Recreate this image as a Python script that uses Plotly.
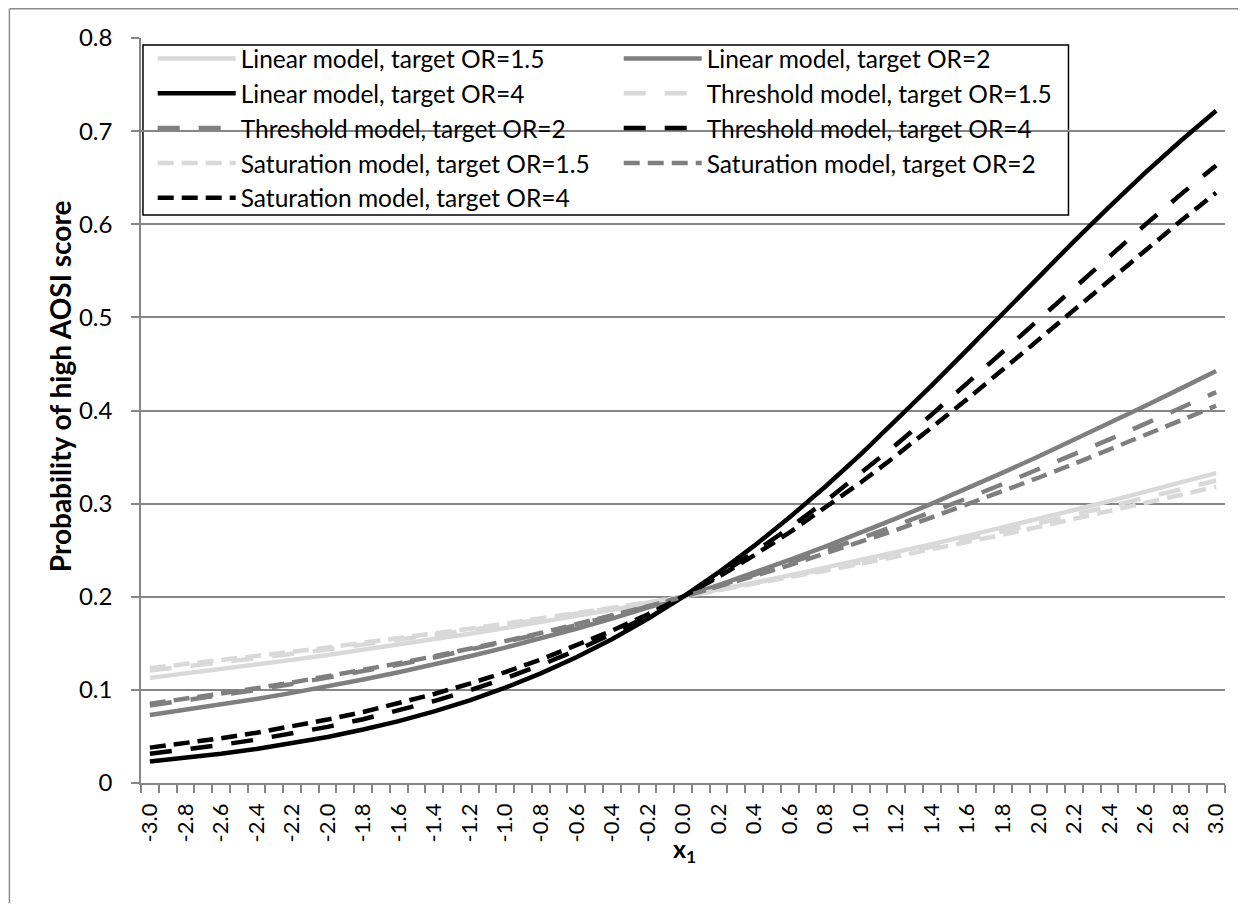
import plotly.graph_objects as go

x_vals = [-3.0, -2.8, -2.6, -2.4, -2.2, -2.0, -1.8, -1.6, -1.4, -1.2, -1.0, -0.8, -0.6, -0.4, -0.2,
          0.0, 0.2, 0.4, 0.6, 0.8, 1.0, 1.2, 1.4, 1.6, 1.8, 2.0, 2.2, 2.4, 2.6, 2.8, 3.0]
tick_labels = ["-3.0", "-2.8", "-2.6", "-2.4", "-2.2", "-2.0", "-1.8", "-1.6", "-1.4", "-1.2", "-1.0",
               "-0.8", "-0.6", "-0.4", "-0.2", "0.0", "0.2", "0.4", "0.6", "0.8", "1.0", "1.2", "1.4",
               "1.6", "1.8", "2.0", "2.2", "2.4", "2.6", "2.8", "3.0"]

linear_or15 = [0.1129, 0.1175, 0.1222, 0.1272, 0.1322, 0.1375, 0.1429, 0.1485, 0.1543, 0.1603, 0.1664,
               0.1727, 0.1793, 0.1860, 0.1929, 0.2000, 0.2075, 0.2152, 0.2230, 0.2311, 0.2393, 0.2478,
               0.2565, 0.2654, 0.2744, 0.2837, 0.2931, 0.3027, 0.3125, 0.3225, 0.3327]
linear_or2 = [0.0730, 0.0784, 0.0841, 0.0903, 0.0968, 0.1037, 0.1111, 0.1190, 0.1273, 0.1361, 0.1454,
              0.1552, 0.1656, 0.1766, 0.1880, 0.2000, 0.2126, 0.2258, 0.2395, 0.2538, 0.2687, 0.2841,
              0.3000, 0.3164, 0.3333, 0.3506, 0.3683, 0.3864, 0.4048, 0.4235, 0.4425]
linear_or4 = [0.0232, 0.0270, 0.0315, 0.0366, 0.0426, 0.0494, 0.0574, 0.0665, 0.0769, 0.0888, 0.1024,
              0.1177, 0.1350, 0.1544, 0.1761, 0.2000, 0.2261, 0.2546, 0.2853, 0.3181, 0.3529, 0.3893,
              0.4270, 0.4654, 0.5043, 0.5432, 0.5816, 0.6190, 0.6551, 0.6894, 0.7218]
threshold_or15 = [0.1207, 0.1250, 0.1294, 0.1340, 0.1387, 0.1435, 0.1485, 0.1537, 0.1589, 0.1643, 0.1699,
                  0.1756, 0.1815, 0.1875, 0.1937, 0.2000, 0.2071, 0.2143, 0.2218, 0.2294, 0.2372, 0.2452,
                  0.2534, 0.2617, 0.2702, 0.2789, 0.2878, 0.2968, 0.3060, 0.3153, 0.3248]
threshold_or2 = [0.0832, 0.0885, 0.0941, 0.1000, 0.1063, 0.1129, 0.1198, 0.1271, 0.1348, 0.1429, 0.1513,
                 0.1602, 0.1695, 0.1792, 0.1894, 0.2000, 0.2116, 0.2236, 0.2362, 0.2492, 0.2627, 0.2766,
                 0.2910, 0.3058, 0.3211, 0.3367, 0.3527, 0.3690, 0.3857, 0.4026, 0.4197]
threshold_or4 = [0.0315, 0.0359, 0.0409, 0.0466, 0.0530, 0.0603, 0.0685, 0.0777, 0.0880, 0.0995, 0.1124,
                 0.1267, 0.1425, 0.1600, 0.1791, 0.2000, 0.2229, 0.2477, 0.2742, 0.3024, 0.3322, 0.3634,
                 0.3958, 0.4291, 0.4631, 0.4974, 0.5318, 0.5659, 0.5993, 0.6318, 0.6632]
saturation_or15 = [0.1233, 0.1275, 0.1318, 0.1363, 0.1409, 0.1456, 0.1504, 0.1554, 0.1605, 0.1657, 0.1711,
                   0.1766, 0.1822, 0.1880, 0.1939, 0.2000, 0.2067, 0.2137, 0.2207, 0.2280, 0.2354, 0.2430,
                   0.2507, 0.2586, 0.2667, 0.2749, 0.2832, 0.2918, 0.3004, 0.3093, 0.3182]
saturation_or2 = [0.0850, 0.0903, 0.0958, 0.1017, 0.1079, 0.1144, 0.1213, 0.1285, 0.1361, 0.1440, 0.1524,
                  0.1611, 0.1702, 0.1797, 0.1896, 0.2000, 0.2109, 0.2222, 0.2340, 0.2462, 0.2588, 0.2718,
                  0.2852, 0.2991, 0.3133, 0.3278, 0.3427, 0.3579, 0.3734, 0.3892, 0.4051]
saturation_or4 = [0.0380, 0.0427, 0.0481, 0.0540, 0.0607, 0.0681, 0.0763, 0.0854, 0.0956, 0.1067, 0.1190,
                  0.1326, 0.1474, 0.1635, 0.1810, 0.2000, 0.2214, 0.2445, 0.2691, 0.2952, 0.3227, 0.3516,
                  0.3815, 0.4123, 0.4440, 0.4760, 0.5082, 0.5404, 0.5722, 0.6034, 0.6339]

series_names = ["Linear model, target OR=1.5", "Linear model, target OR=2", "Linear model, target OR=4",
                "Threshold model, target OR=1.5", "Threshold model, target OR=2", "Threshold model, target OR=4",
                "Saturation model, target OR=1.5", "Saturation model, target OR=2", "Saturation model, target OR=4"]
series_values = [linear_or15, linear_or2, linear_or4,
                 threshold_or15, threshold_or2, threshold_or4,
                 saturation_or15, saturation_or2, saturation_or4]

LIGHT, MID, DARK = "#D9D9D9", "#7F7F7F", "#000000"
colors = [LIGHT, MID, DARK] * 3
dashes = ["solid"] * 3 + ["22px,19px"] * 3 + ["16px,8px"] * 3
AXC = "#868686"
FONT = "Lato"

fig = go.Figure()
for name, vals, col, dsh in zip(series_names, series_values, colors, dashes):
    fig.add_trace(go.Scatter(x=x_vals, y=vals, mode="lines", name=name,
                             line=dict(color=col, width=4.5, dash=dsh)))

fig.update_layout(
    width=1230, height=895,
    margin=dict(l=133, r=10, t=30, b=120),
    paper_bgcolor="white", plot_bgcolor="white",
    font=dict(family=FONT, color="black", size=23),
    legend=dict(orientation="h", x=0.0108, y=1.0027, xanchor="left", yanchor="top",
                entrywidth=373, entrywidthmode="pixels", itemwidth=78,
                borderwidth=0, bgcolor="rgba(0,0,0,0)",
                font=dict(family=FONT, size=24.5, color="black"),
                traceorder="normal"),
    xaxis=dict(range=[-3.05, 3.0501], tickmode="array", tickvals=x_vals, ticktext=tick_labels,
               tickangle=-90, ticks="", showgrid=False, zeroline=False,
               showline=True, linecolor=AXC, linewidth=1.5,
               tickfont=dict(family=FONT, size=22, color="black"), ticklabelstandoff=10,
               minor=dict(tickmode="linear", tick0=-3.05, dtick=0.1, ticks="outside", ticklen=8,
                          tickcolor=AXC, tickwidth=1.5, showgrid=False)),
    yaxis=dict(range=[0, 0.8], dtick=0.1, tick0=0, showgrid=True, gridcolor=AXC, gridwidth=1.5,
               zeroline=False, showline=True, linecolor=AXC, linewidth=1.5,
               ticks="outside", ticklen=8, tickcolor=AXC, tickwidth=1.5,
               tickfont=dict(family=FONT, size=24, color="black"), ticklabelstandoff=14),
    annotations=[
        dict(text="<b>Probability of high AOSI score</b>", xref="paper", yref="paper",
             x=-0.0745, y=0.5329, xanchor="center", yanchor="middle", textangle=-90,
             showarrow=False, font=dict(family=FONT, size=28, color="black")),
        dict(text="<b>x<sub>1</sub></b>", xref="paper", yref="paper",
             x=0.5014, y=-0.0899, xanchor="center", yanchor="middle",
             showarrow=False, font=dict(family=FONT, size=25, color="black")),
    ],
    shapes=[
        dict(type="rect", xref="paper", yref="paper", x0=0.0018, x1=0.8556, y0=0.7624, y1=0.9906,
             fillcolor="white", line=dict(color="black", width=1.5), layer="between"),
        dict(type="line", xref="paper", yref="paper", x0=-0.1214, x1=1.2, y0=1.0393, y1=1.0393,
             line=dict(color="#8C8C8C", width=1.5)),
        dict(type="line", xref="paper", yref="paper", x0=-0.1214, x1=-0.1214, y0=1.0393, y1=-0.3,
             line=dict(color="#8C8C8C", width=1.5)),
    ],
)

fig.write_html("out.html")
